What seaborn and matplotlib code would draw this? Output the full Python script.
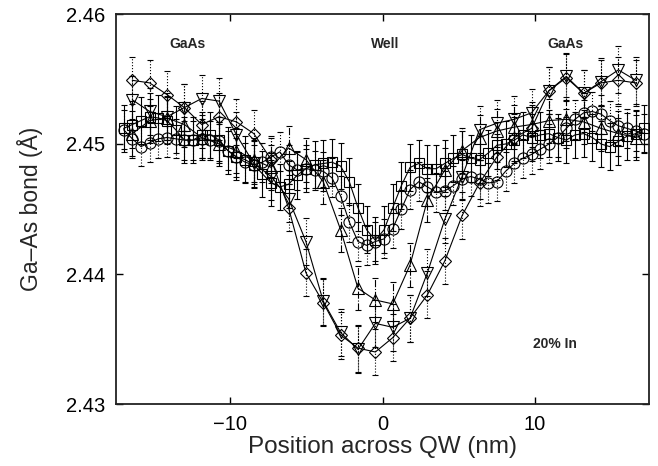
import numpy as np
import pandas as pd
import matplotlib
matplotlib.use("Agg")
import matplotlib.pyplot as plt
import seaborn as sns

# ---------------- data ----------------
# dense grid (squares, circles): step 0.57 nm
x_dense = [round(-17.0 + 0.57 * i, 3) for i in range(61)]
# sparse grid (triangles, diamonds): every other dense point
x_sparse = x_dense[1::2]

sq_y = [2.4512, 2.4515, 2.4518, 2.4521, 2.4520, 2.4518, 2.4511, 2.4503, 2.4503, 2.4507,
        2.4507, 2.4503, 2.4495, 2.4490, 2.4488, 2.4484, 2.4477, 2.4470, 2.4467, 2.4469,
        2.4476, 2.4481, 2.4484, 2.4485, 2.4486, 2.4483, 2.4471, 2.4451, 2.4434, 2.4426,
        2.4434, 2.4451, 2.4468, 2.4482, 2.4485, 2.4481, 2.4481, 2.4485, 2.4489, 2.4492,
        2.4489, 2.4488, 2.4493, 2.4499, 2.4500, 2.4503, 2.4507, 2.4505, 2.4507, 2.4508,
        2.4505, 2.4503, 2.4507, 2.4508, 2.4505, 2.4500, 2.4498, 2.4502, 2.4506, 2.4508,
        2.4512]

ci_y = [2.4511, 2.4504, 2.4498, 2.4501, 2.4504, 2.4505, 2.4504, 2.4503, 2.4503, 2.4504,
        2.4503, 2.4502, 2.4495, 2.4490, 2.4486, 2.4484, 2.4486, 2.4490, 2.4494, 2.4484,
        2.4480, 2.4481, 2.4480, 2.4479, 2.4474, 2.4460, 2.4440, 2.4425, 2.4422, 2.4425,
        2.4427, 2.4435, 2.4450, 2.4465, 2.4471, 2.4467, 2.4463, 2.4464, 2.4468, 2.4473,
        2.4475, 2.4473, 2.4470, 2.4471, 2.4479, 2.4485, 2.4489, 2.4492, 2.4496, 2.4500,
        2.4505, 2.4512, 2.4519, 2.4524, 2.4525, 2.4523, 2.4518, 2.4514, 2.4512, 2.4510,
        2.4508]

tu_y = [2.4508, 2.4518, 2.4520, 2.4515, 2.4505, 2.4500, 2.4495, 2.4488, 2.4482, 2.4497,
        2.4488, 2.4471, 2.4434, 2.4389, 2.4380, 2.4377, 2.4407, 2.4457, 2.4480, 2.4495,
        2.4505, 2.4510, 2.4513, 2.4515, 2.4518, 2.4519, 2.4517, 2.4512, 2.4508, 2.4505]

td_y = [2.4534, 2.4525, 2.4521, 2.4528, 2.4535, 2.4533, 2.4507, 2.4485, 2.4475, 2.4458,
        2.4425, 2.4379, 2.4355, 2.4342, 2.4362, 2.4359, 2.4366, 2.4401, 2.4442, 2.4475,
        2.4511, 2.4516, 2.4519, 2.4524, 2.4541, 2.4552, 2.4539, 2.4548, 2.4557, 2.4549]

di_y = [2.4549, 2.4547, 2.4538, 2.4528, 2.4515, 2.4521, 2.4517, 2.4508, 2.4488, 2.4451,
        2.4401, 2.4378, 2.4353, 2.4343, 2.4340, 2.4351, 2.4366, 2.4384, 2.4410, 2.4445,
        2.4470, 2.4490, 2.4505, 2.4512, 2.4541, 2.4551, 2.4539, 2.4547, 2.4549, 2.4547]

sq_err = 0.0018
ci_err = 0.0015
tu_err = 0.0017
td_err = 0.0018
di_err = 0.0018

labels_text = ["GaAs", "Well", "GaAs", "20% In"]

# ---------------- style ----------------
sns.set_theme(style="ticks")
plt.rcParams["font.family"] = ["Liberation Sans", "DejaVu Sans"]

fig = plt.figure(figsize=(6.58, 4.66), dpi=100)
ax = fig.add_axes([116 / 658, 1 - 404 / 466, (649 - 116) / 658, (404 - 14) / 466])

series = [
    (x_dense, sq_y, sq_err, "s", 7.5, "-"),
    (x_dense, ci_y, ci_err, "o", 8, ":"),
    (x_sparse, tu_y, tu_err, "^", 8, "-."),
    (x_sparse, td_y, td_err, "v", 8, ":"),
    (x_sparse, di_y, di_err, "D", 6.5, ":"),
]

for xs, ys, err, mk, ms, els in series:
    eb = ax.errorbar(xs, ys, yerr=err, fmt="none", ecolor="black",
                     elinewidth=0.8, capsize=2.2, capthick=0.8, zorder=2)
    for lc in eb[2]:
        lc.set_linestyle(els)
    df = pd.DataFrame({"x": xs, "y": ys})
    sns.lineplot(data=df, x="x", y="y", ax=ax, color="black", linewidth=0.8,
                 marker=mk, markersize=ms, markerfacecolor="none",
                 markeredgecolor="black", markeredgewidth=0.8, zorder=3)

ax.set_xlim(-17.5, 17.5)
ax.set_ylim(2.43, 2.46)
ax.set_xticks([-10, 0, 10])
ax.set_xticklabels(["\u221210", "0", "10"])
ax.set_yticks([2.43, 2.44, 2.45, 2.46])
ax.set_yticklabels(["2.43", "2.44", "2.45", "2.46"])
ax.tick_params(direction="in", length=5, width=1, top=True, right=True,
               labelsize=14.5, colors="black", pad=8)
for s in ax.spines.values():
    s.set_visible(True)
    s.set_color("#222222")
    s.set_linewidth(1.3)

ax.set_xlabel("Position across QW (nm)", fontsize=17.5, labelpad=1)
ax.set_ylabel("Ga\u2013As bond (\u00c5)", fontsize=16.5, labelpad=16)

ax.text(-12.8, 2.4577, labels_text[0], ha="center", va="center", fontsize=10, fontweight="bold")
ax.text(0.2, 2.4577, labels_text[1], ha="center", va="center", fontsize=10, fontweight="bold")
ax.text(12.0, 2.4577, labels_text[2], ha="center", va="center", fontsize=10, fontweight="bold")
ax.text(11.3, 2.4346, labels_text[3], ha="center", va="center", fontsize=10, fontweight="bold")

fig.savefig("out.png", dpi=100)
